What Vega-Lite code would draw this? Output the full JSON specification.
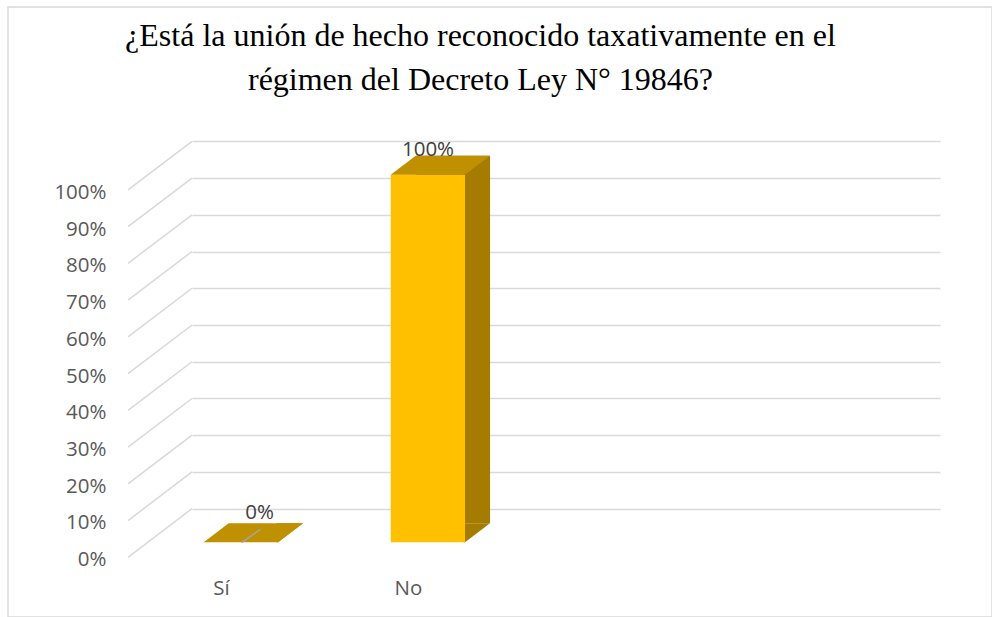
{
  "$schema": "https://vega.github.io/schema/vega-lite/v6.json",
  "width": 984,
  "height": 610,
  "autosize": {"type": "none"},
  "padding": {"left": 8, "top": 7, "right": 0, "bottom": 0},
  "background": "white",
  "config": {"view": {"stroke": "#d9d9d9", "strokeWidth": 1.5}},
  "title": {
    "text": ["¿Está la unión de hecho reconocido taxativamente en el", "régimen del Decreto Ley N° 19846?"],
    "font": "'Liberation Serif', 'DejaVu Serif', serif",
    "fontSize": 32,
    "fontWeight": "normal",
    "color": "#000000",
    "anchor": "middle",
    "baseline": "top",
    "lineHeight": 44,
    "offset": -90,
    "dx": -19.5
  },
  "datasets": {
    "respuestas": [
      {"respuesta": "Sí", "porcentaje": 0},
      {"respuesta": "No", "porcentaje": 1}
    ],
    "marcas": [
      {"t": 0}, {"t": 0.1}, {"t": 0.2}, {"t": 0.3}, {"t": 0.4}, {"t": 0.5},
      {"t": 0.6}, {"t": 0.7}, {"t": 0.8}, {"t": 0.9}, {"t": 1}
    ]
  },
  "encoding": {
    "x": {
      "field": "respuesta",
      "type": "nominal",
      "sort": null,
      "title": null,
      "scale": {"domain": ["Sí", "No"], "range": [184, 932], "paddingInner": 0, "paddingOuter": 1, "align": 0},
      "axis": {
        "title": null, "domain": false, "ticks": false, "grid": false, "labelAngle": 0,
        "labelFont": "Open Sans", "labelFontSize": 20.5, "labelColor": "#595959",
        "labelPadding": 21, "labelOffset": -64, "offset": -60
      }
    },
    "y": {
      "field": "porcentaje",
      "type": "quantitative",
      "title": null,
      "scale": {"domain": [0, 1], "range": [501.7, 134.3], "nice": false, "zero": false},
      "axis": {
        "title": null, "domain": false, "ticks": false, "grid": true,
        "gridColor": "#d9d9d9", "gridWidth": 1.5,
        "values": [0, 0.1, 0.2, 0.3, 0.4, 0.5, 0.6, 0.7, 0.8, 0.9, 1],
        "format": ".0%",
        "labelFont": "Open Sans", "labelFontSize": 20.5, "labelColor": "#595959",
        "labelPadding": 22, "labelOffset": 51, "offset": -120
      }
    }
  },
  "layer": [
    {
      "data": {"name": "marcas"},
      "mark": {"type": "rule", "color": "#d9d9d9", "strokeWidth": 1.5, "x2Offset": -157.5, "y2Offset": 48.6},
      "encoding": {
        "x": {"datum": "Sí", "type": "nominal", "bandPosition": 0, "title": null, "scale": {"domain": ["Sí", "No"], "range": [184, 932], "paddingInner": 0, "paddingOuter": 1, "align": 0}},
        "x2": {"datum": "Sí"},
        "y": {"field": "t", "type": "quantitative", "title": null},
        "y2": {"field": "t"}
      }
    },
    {
      "data": {"name": "respuestas"},
      "mark": {"type": "bar", "width": 74.3, "color": "#A67C00", "xOffset": -19.6, "yOffset": 14.5, "y2Offset": 14.5}
    },
    {
      "data": {"name": "respuestas"},
      "mark": {"type": "point", "shape": "M-9,33.5 L-7.5,33.5 L17.5,14.5 L-9,14.5 Z", "size": 4, "filled": true, "opacity": 1, "color": "#A67C00", "strokeWidth": 0},
      "encoding": {
        "y": {"datum": 0, "type": "quantitative", "title": null}
      }
    },
    {
      "data": {"name": "respuestas"},
      "mark": {"type": "bar", "width": 74.3, "color": "#FFC000", "xOffset": -44.6, "yOffset": 33.5, "y2Offset": 33.5}
    },
    {
      "data": {"name": "respuestas"},
      "mark": {"type": "point", "shape": "M-81.8,33.5 L-7.5,33.5 L17.5,14.5 L-56.8,14.5 Z", "size": 4, "filled": true, "opacity": 1, "color": "#BF9000", "strokeWidth": 0}
    },
    {
      "data": {"name": "respuestas"},
      "transform": [{"filter": "datum.porcentaje == 0"}],
      "mark": {"type": "point", "shape": "M-43.8,34 L-25.2,20.6", "size": 4, "filled": false, "opacity": 1, "stroke": "#A6A6A6", "strokeWidth": 1.5}
    },
    {
      "data": {"name": "respuestas"},
      "transform": [{"filter": "datum.porcentaje > 0"}],
      "mark": {"type": "text", "font": "Open Sans", "fontSize": 20.5, "color": "#404040", "align": "center", "baseline": "middle", "dx": -44.5, "dy": 8.7},
      "encoding": {"text": {"field": "porcentaje", "type": "quantitative", "format": ".0%"}}
    },
    {
      "data": {"name": "respuestas"},
      "transform": [{"filter": "datum.porcentaje == 0"}],
      "mark": {"type": "text", "font": "Open Sans", "fontSize": 20.5, "color": "#404040", "align": "center", "baseline": "middle", "dx": -26, "dy": 4.3},
      "encoding": {"text": {"field": "porcentaje", "type": "quantitative", "format": ".0%"}}
    }
  ]
}
